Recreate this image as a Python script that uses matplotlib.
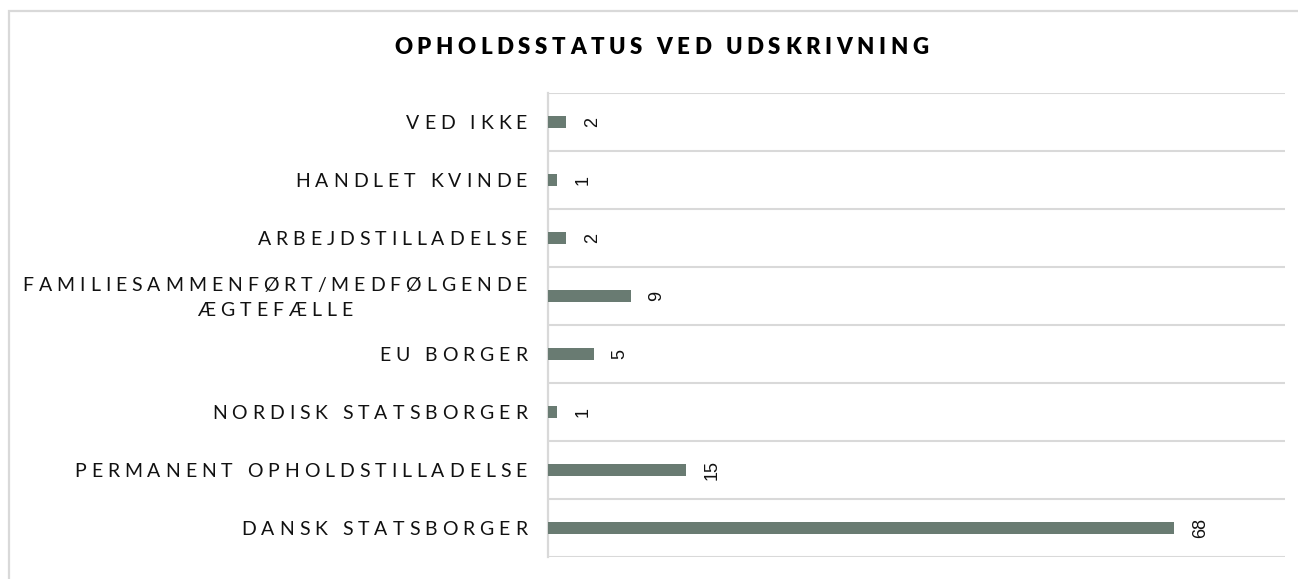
import matplotlib
matplotlib.use("Agg")
import matplotlib.pyplot as plt
from matplotlib.patches import Rectangle
from matplotlib.font_manager import FontProperties, findfont
from matplotlib.ft2font import LoadFlags
from matplotlib.font_manager import get_font

# ---------------- data ----------------
title = "OPHOLDSSTATUS VED UDSKRIVNING"
categories = [
    "VED IKKE",
    "HANDLET KVINDE",
    "ARBEJDSTILLADELSE",
    "FAMILIESAMMENFØRT/MEDFØLGENDE\nÆGTEFÆLLE",
    "EU BORGER",
    "NORDISK STATSBORGER",
    "PERMANENT OPHOLDSTILLADELSE",
    "DANSK STATSBORGER",
]
values = [2, 1, 2, 9, 5, 1, 15, 68]
x_max = 80

# ---------------- style ----------------
W, H, DPI = 1298, 579, 100
BAR = "#697b72"
GRID = "#d9d9d9"
fig = plt.figure(figsize=(W / DPI, H / DPI), dpi=DPI)

def fx(px):
    return px / W

def fy(py):
    return 1 - py / H

# outer frame
fig.patches.append(Rectangle((fx(9), fy(H + 20)), fx(W + 40), fy(11) - fy(H + 20),
                             transform=fig.transFigure, fill=False,
                             edgecolor=GRID, lw=1.6, zorder=0))

ax_l, ax_r, ax_t, ax_b = 548, 1285, 93, 557
ax = fig.add_axes([fx(ax_l), fy(ax_b), fx(ax_r - ax_l), fy(ax_t) - fy(ax_b)])
n = len(categories)
ypos = list(range(n))
ax.barh(ypos, values, height=0.19, color=BAR, zorder=3)
ax.set_xlim(0, x_max)
ax.set_ylim(n - 0.5, -0.5)
ax.set_yticks([i - 0.5 for i in range(n + 1)])
ax.set_yticklabels([])
ax.tick_params(axis="both", length=0)
ax.set_xticks([])
ax.grid(axis="y", color=GRID, lw=1.5, zorder=0)
for s in ["top", "right", "bottom"]:
    ax.spines[s].set_visible(False)
ax.spines["left"].set_color(GRID)
ax.spines["left"].set_linewidth(1.6)

# value labels (rotated)
for y, v in zip(ypos, values):
    ax.annotate(str(v), xy=(v, y), xytext=(26, 0), textcoords="offset pixels",
                rotation=90, ha="center", va="center", fontsize=13,
                family="Liberation Sans", color="#111111")

# ---------------- letter-spaced text helper ----------------
def advance_px(ch, prop):
    font = get_font(findfont(prop))
    font.set_size(prop.get_size_in_points(), DPI)
    g = font.load_char(ord(ch), flags=LoadFlags.NO_HINTING)
    return g.linearHoriAdvance / 65536

def spaced_width(s, prop, track):
    return sum(advance_px(c, prop) for c in s) + track * (len(s) - 1)

def spaced_text(s, x, y_base, prop, track, ha="left", color="#111111"):
    w = spaced_width(s, prop, track)
    if ha == "right":
        x0 = x - w
    elif ha == "center":
        x0 = x - w / 2
    else:
        x0 = x
    cx = x0
    for c in s:
        fig.text(fx(cx), fy(y_base), c, fontproperties=prop, color=color,
                 ha="left", va="baseline")
        cx += advance_px(c, prop) + track

lab_prop = FontProperties(family="Lato", weight="normal", size=14)
lab_track = 4.9
row_h = (ax_b - ax_t) / n
for i, lab in enumerate(categories):
    cy = ax_t + row_h * (i + 0.5)
    lines = lab.split("\n")
    if len(lines) == 1:
        spaced_text(lab, 527, cy + 7, lab_prop, lab_track, ha="right")
    else:
        w1 = spaced_width(lines[0], lab_prop, lab_track)
        center = 527 - w1 / 2
        spaced_text(lines[0], 527, cy - 5, lab_prop, lab_track, ha="right")
        spaced_text(lines[1], center, cy + 20, lab_prop, lab_track, ha="center")

title_prop = FontProperties(family="Lato", weight="heavy", size=16)
spaced_text(title, 661, 54, title_prop, 4.6, ha="center", color="#000000")

fig.savefig("out.png", dpi=DPI)
